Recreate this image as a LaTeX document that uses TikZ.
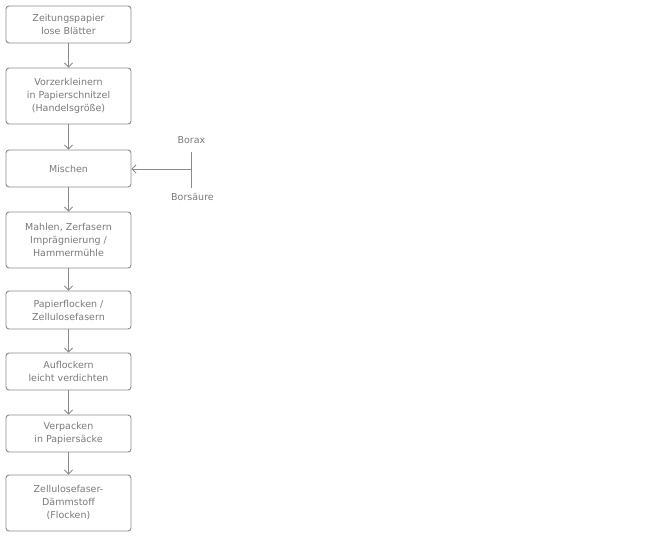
\documentclass[tikz,border=0pt]{standalone}
\usepackage{fontspec}
\setmainfont{DejaVu Sans}
\usetikzlibrary{arrows.meta}
\definecolor{txt}{HTML}{7A7A7A}
\definecolor{edge}{HTML}{8A8A8A}
\begin{document}
\begin{tikzpicture}[x=1pt,y=-1pt,
  stepbox/.style={draw=edge,line width=0.9pt,rounded corners=3pt,minimum width=125pt,
    text=txt,align=center,font=\fontsize{9.5}{13}\selectfont,inner sep=0pt},
  flow/.style={draw=edge,line width=0.8pt,-{Straight Barb[length=4pt,width=8pt]}},
  lbl/.style={text=txt,font=\fontsize{9.5}{13}\selectfont,inner sep=0pt}]
\useasboundingbox (0,0) rectangle (660,536);
\node[stepbox,minimum height=37pt] (b1) at (68.5,24.5) {Zeitungspapier\\lose Blätter};
\node[stepbox,minimum height=56pt] (b2) at (68.5,96) {Vorzerkleinern\\in Papierschnitzel\\(Handelsgröße)};
\node[stepbox,minimum height=37pt] (b3) at (68.5,168.5) {Mischen};
\node[stepbox,minimum height=56pt] (b4) at (68.5,240) {Mahlen, Zerfasern\\Imprägnierung /\\Hammermühle};
\node[stepbox,minimum height=38pt] (b5) at (68.5,310) {Papierflocken /\\Zellulosefasern};
\node[stepbox,minimum height=37pt] (b6) at (68.5,371.5) {Auflockern\\leicht verdichten};
\node[stepbox,minimum height=37pt] (b7) at (68.5,433.5) {Verpacken\\in Papiersäcke};
\node[stepbox,minimum height=56pt] (b8) at (68.5,503) {Zellulosefaser-\\Dämmstoff\\(Flocken)};
\node[lbl] (borax) at (191.5,140.5) {Borax};
\node[lbl] (bors) at (192.5,197) {Borsäure};
\coordinate (vt) at (191.5,152);
\coordinate (vb) at (191.5,188);
\coordinate (vm) at (191.5,169);
\draw[flow] (b1) -- (b2);
\draw[flow] (b2) -- (b3);
\draw[flow] (b3) -- (b4);
\draw[flow] (b4) -- (b5);
\draw[flow] (b5) -- (b6);
\draw[flow] (b6) -- (b7);
\draw[flow] (b7) -- (b8);
\draw[draw=edge,line width=0.9pt] (vt) -- (vb);
\draw[flow] (vm) -- (b3.east |- vm);
\end{tikzpicture}
\end{document}
